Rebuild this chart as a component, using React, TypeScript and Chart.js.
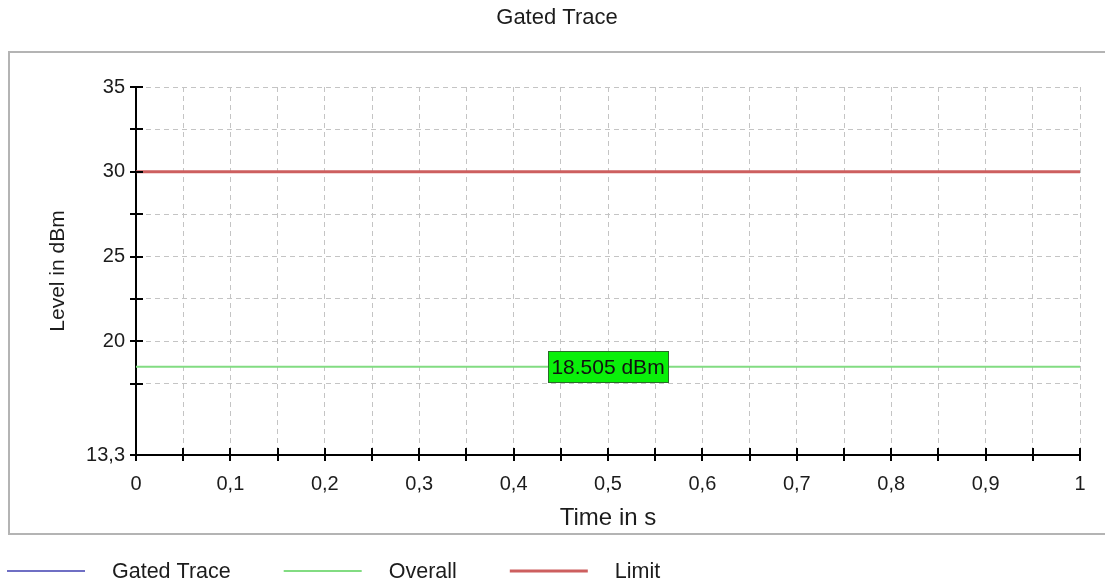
import React, { useEffect, useRef } from 'react';
import { Chart, registerables } from 'chart.js';

Chart.register(...registerables);

const chartTitle = 'Gated Trace';
const xAxisTitle = 'Time in s';
const yAxisTitle = 'Level in dBm';

const seriesNames = ['Gated Trace', 'Overall', 'Limit'];
const seriesColors = ['#6f6fc4', '#82dc82', '#cd5f5f'];
const seriesWidths = [2, 2, 3];

const timePoints = [0, 1];
const gatedTraceValues: number[] = [];
const overallValues = [18.505, 18.505];
const limitValues = [30, 30];

const xMin = 0;
const xMax = 1;
const yMin = 13.3;
const yMax = 35;

const xTickValues = [0, 0.05, 0.1, 0.15, 0.2, 0.25, 0.3, 0.35, 0.4, 0.45, 0.5, 0.55, 0.6, 0.65, 0.7, 0.75, 0.8, 0.85, 0.9, 0.95, 1];
const xTickLabels = ['0', '', '0,1', '', '0,2', '', '0,3', '', '0,4', '', '0,5', '', '0,6', '', '0,7', '', '0,8', '', '0,9', '', '1'];
const yTickValues = [13.3, 17.5, 20, 22.5, 25, 27.5, 30, 32.5, 35];
const yTickLabels = ['13,3', '', '20', '', '25', '', '30', '', '35'];

const markerTime = 0.5;
const markerValue = 18.505;
const markerText = '18.505 dBm';

const FONT = '"Liberation Sans", Arial, sans-serif';
const TEXT_COLOR = '#1c1c1c';
const GRID_COLOR = '#c4c4c4';

const toPoints = (xs: number[], ys: number[]) => ys.map((y, i) => ({ x: xs[i], y }));

const panelPlugin = {
  id: 'panelPlugin',
  beforeDraw(chart: any) {
    const ctx = chart.ctx;
    ctx.save();
    ctx.fillStyle = '#ffffff';
    ctx.fillRect(0, 0, chart.width, chart.height);
    ctx.strokeStyle = '#b4b4b4';
    ctx.lineWidth = 2;
    ctx.strokeRect(9, 52, chart.width + 20, 482);
    ctx.restore();
  },
};

const tickMarkPlugin = {
  id: 'tickMarkPlugin',
  afterDraw(chart: any) {
    const ctx = chart.ctx;
    const xs = chart.scales.x;
    const ys = chart.scales.y;
    const axisX = chart.chartArea.left;
    const axisY = chart.chartArea.bottom;
    ctx.save();
    ctx.strokeStyle = '#000';
    ctx.lineWidth = 2;
    ctx.setLineDash([]);
    ys.ticks.forEach((t: any) => {
      const py = Math.round(ys.getPixelForValue(t.value));
      ctx.beginPath();
      ctx.moveTo(axisX - 6, py);
      ctx.lineTo(axisX + 7, py);
      ctx.stroke();
    });
    xs.ticks.forEach((t: any) => {
      const px = Math.round(xs.getPixelForValue(t.value));
      ctx.beginPath();
      ctx.moveTo(px, axisY - 7);
      ctx.lineTo(px, axisY + 6);
      ctx.stroke();
    });
    ctx.restore();
  },
};

const markerPlugin = {
  id: 'markerPlugin',
  afterDatasetsDraw(chart: any) {
    const ctx = chart.ctx;
    const cx = chart.scales.x.getPixelForValue(markerTime);
    const cy = chart.scales.y.getPixelForValue(markerValue);
    const w = 120;
    const h = 31;
    ctx.save();
    ctx.fillStyle = '#0af00a';
    ctx.fillRect(cx - w / 2, cy - h / 2, w, h);
    ctx.strokeStyle = '#2a6a2a';
    ctx.lineWidth = 1;
    ctx.strokeRect(Math.round(cx - w / 2) + 0.5, Math.round(cy - h / 2) + 0.5, w, h);
    ctx.fillStyle = '#111';
    ctx.font = `21px ${FONT}`;
    ctx.textAlign = 'center';
    ctx.textBaseline = 'middle';
    ctx.fillText(markerText, cx, cy + 1);
    ctx.restore();
  },
};

const legendPlugin = {
  id: 'customLegend',
  afterDraw(chart: any) {
    const ctx = chart.ctx;
    const y = 571;
    let x = 7;
    ctx.save();
    ctx.font = `21.5px ${FONT}`;
    ctx.textBaseline = 'middle';
    ctx.textAlign = 'left';
    chart.data.datasets.forEach((ds: any) => {
      ctx.strokeStyle = ds.borderColor;
      ctx.lineWidth = ds.borderWidth;
      ctx.beginPath();
      ctx.moveTo(x, y);
      ctx.lineTo(x + 78, y);
      ctx.stroke();
      ctx.fillStyle = TEXT_COLOR;
      const tx = x + 105;
      ctx.fillText(ds.label, tx, y + 1);
      x = tx + ctx.measureText(ds.label).width + 53;
    });
    ctx.restore();
  },
};

export default function App() {
  const canvasRef = useRef<HTMLCanvasElement | null>(null);

  useEffect(() => {
    if (!canvasRef.current) return;
    Chart.defaults.font.family = FONT;
    const seriesValues = [gatedTraceValues, overallValues, limitValues];
    const chart = new Chart(canvasRef.current, {
      type: 'line',
      data: {
        datasets: seriesNames.map((name, i) => ({
          label: name,
          data: toPoints(timePoints, seriesValues[i]),
          borderColor: seriesColors[i],
          backgroundColor: seriesColors[i],
          borderWidth: seriesWidths[i],
          pointRadius: 0,
          fill: false,
          tension: 0,
        })),
      },
      options: {
        responsive: false,
        animation: false,
        events: [],
        layout: { padding: { left: 34, right: 25, top: 0, bottom: 0 } },
        plugins: {
          legend: { display: false },
          tooltip: { enabled: false },
          title: {
            display: true,
            text: chartTitle,
            color: TEXT_COLOR,
            font: { size: 22, weight: 'normal', lineHeight: 1.2 },
            padding: { top: 5, bottom: 55.6 },
          },
        },
        scales: {
          x: {
            type: 'linear',
            min: xMin,
            max: xMax,
            afterBuildTicks: (s: any) => {
              s.ticks = xTickValues.map((v) => ({ value: v }));
            },
            afterFit: (s: any) => {
              s.height = 133;
            },
            ticks: {
              autoSkip: false,
              maxRotation: 0,
              minRotation: 0,
              padding: 17,
              color: TEXT_COLOR,
              font: { size: 20 },
              callback: (_v: any, i: number) => xTickLabels[i],
            },
            grid: {
              color: (c: any) => (c.tick && c.tick.value === xMin ? 'rgba(0,0,0,0)' : GRID_COLOR),
              lineWidth: 1,
              drawTicks: false,
            },
            border: { display: true, color: '#000', width: 2, dash: [5, 4] },
            title: {
              display: true,
              text: xAxisTitle,
              color: TEXT_COLOR,
              font: { size: 24 },
              padding: { top: 0, bottom: 55 },
            },
          },
          y: {
            type: 'linear',
            min: yMin,
            max: yMax,
            afterBuildTicks: (s: any) => {
              s.ticks = yTickValues.map((v) => ({ value: v }));
            },
            afterFit: (s: any) => {
              s.width = 102;
            },
            ticks: {
              autoSkip: false,
              padding: 11,
              color: TEXT_COLOR,
              font: { size: 20 },
              callback: (_v: any, i: number) => yTickLabels[i],
            },
            grid: {
              color: (c: any) => (c.tick && c.tick.value === yMin ? 'rgba(0,0,0,0)' : GRID_COLOR),
              lineWidth: 1,
              drawTicks: false,
            },
            border: { display: true, color: '#000', width: 2, dash: [5, 4] },
            title: {
              display: true,
              text: yAxisTitle,
              color: TEXT_COLOR,
              font: { size: 21 },
              padding: { top: 12, bottom: 0 },
            },
          },
        },
      },
      plugins: [panelPlugin, tickMarkPlugin, markerPlugin, legendPlugin],
    } as any);
    return () => chart.destroy();
  }, []);

  return (
    <div style={{ position: 'absolute', left: 0, top: 0, width: 1105, height: 588 }}>
      <canvas ref={canvasRef} width={1105} height={588} style={{ display: 'block' }} />
    </div>
  );
}
